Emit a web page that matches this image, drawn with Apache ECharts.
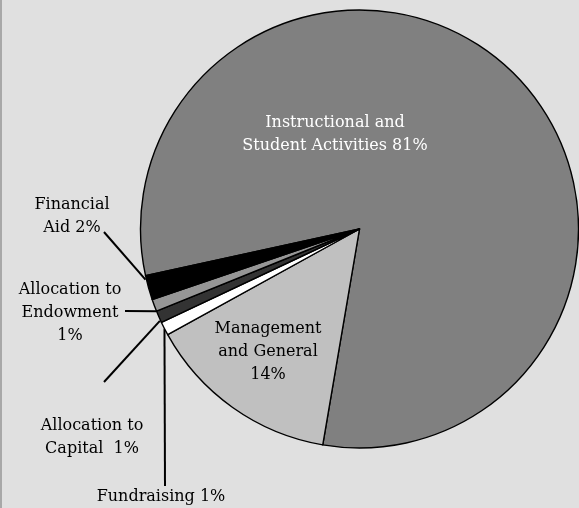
<!DOCTYPE html>
<html><head><meta charset="utf-8">
<script src="https://cdn.jsdelivr.net/npm/echarts@6/dist/echarts.min.js"></script>
<style>html,body{margin:0;padding:0;background:#e0e0e0;}#c{width:579px;height:508px;box-sizing:border-box;border-left:2px solid #a8a8a8;}</style>
</head><body><div id="c"></div>
<script>
const categories = ['Instructional and Student Activities','Management and General','Fundraising','Allocation to Capital','Allocation to Endowment','Financial Aid'];
const values = [81.1, 14.3, 1.0, 0.9, 0.9, 1.8];
const labelTexts = ['Instructional and\nStudent Activities 81%','Management\nand General\n14%','Fundraising 1%','Allocation to\nCapital  1%','Allocation to\nEndowment\n1%','Financial\nAid 2%'];
const colors = ['#808080','#c0c0c0','#ffffff','#333333','#969696','#000000'];

// label anchor positions (layout only)
const labelPos = [[333,134],[266,352],[159,497],[90,437],[68,313],[70,216]];
const lineEnds = [null,null,[163,486],[102,382],[123,311],[102,232]];
// offset of leader-line start from the slice's default anchor
const lineStartShift = [null,null,[0,0],[1,4],[2,6],[-3,-8]];

const chart = echarts.init(document.getElementById('c'));
chart.setOption({
  backgroundColor:'#e0e0e0',
  animation:false,
  series:[{
    type:'pie',
    center:[357.5,229],
    radius:219,
    startAngle:192.3,
    clockwise:true,
    silent:true,
    itemStyle:{borderColor:'#000',borderWidth:1.4},
    label:{
      show:true,
      position:'outside',
      fontFamily:'DejaVu Serif',
      fontSize:16,
      lineHeight:23,
      color:'#000',
      align:'center',
      overflow:'none',
      formatter:p=>labelTexts[p.dataIndex]
    },
    labelLine:{show:true,lineStyle:{color:'#000',width:2},smooth:false},
    labelLayout:function(params){
      const i = params.dataIndex;
      const pos = labelPos[i];
      const out = {x:pos[0], y:pos[1], align:'center', verticalAlign:'middle'};
      const pts = params.labelLinePoints;
      if (lineEnds[i] && pts) {
        const p0 = [pts[0][0]+lineStartShift[i][0], pts[0][1]+lineStartShift[i][1]];
        const e = lineEnds[i];
        out.labelLinePoints = [p0, e, e];
      }
      return out;
    },
    data: categories.map((c,i)=>({
      name:c, value:values[i],
      itemStyle:{color:colors[i]},
      label: i===0 ? {position:'inside',color:'#ffffff'} : (i===1 ? {position:'inside',color:'#000'} : {}),
      labelLine: i<2 ? {show:false} : {show:true}
    }))
  }]
});
</script></body></html>
